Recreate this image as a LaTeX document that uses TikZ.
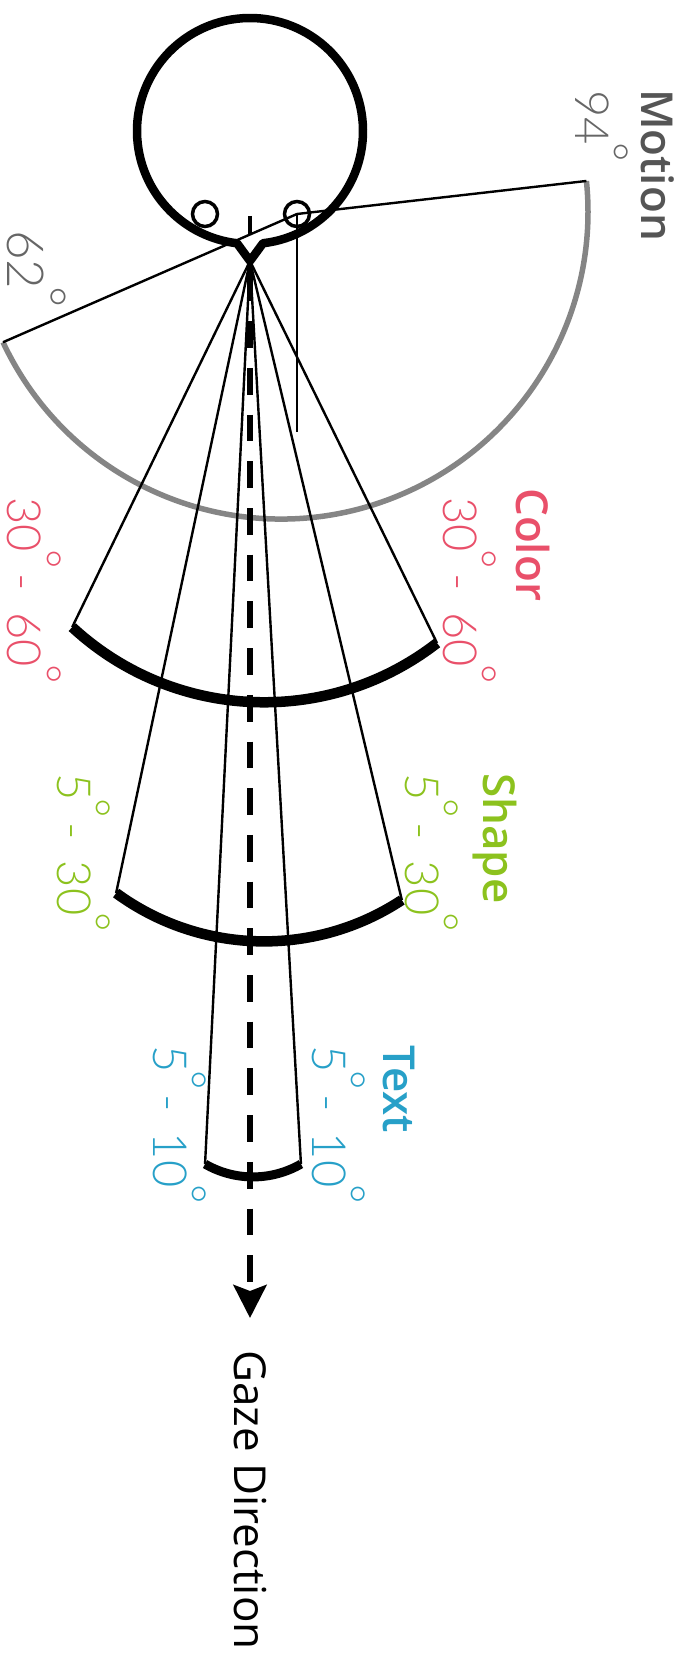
\documentclass[tikz,border=0pt]{standalone}
\usepackage{fontspec}
\setmainfont{Open Sans}
\IfFontExistsTF{Lato Light}{\newfontfamily\numfont{Lato Light}}{\newfontfamily\numfont{Open Sans}}
\IfFontExistsTF{Open Sans Semibold}{\newfontfamily\wordfont{Open Sans Semibold}}{\newcommand\wordfont{\bfseries}}
\usetikzlibrary{arrows.meta}
\definecolor{cred}{HTML}{E9506A}
\definecolor{cgreen}{HTML}{8CC21E}
\definecolor{cblue}{HTML}{27A0C8}
\definecolor{tgray}{HTML}{555555}
\definecolor{ngray}{HTML}{666666}
\definecolor{agray}{HTML}{858585}
\newcommand\dg{\kern-0.05em\raisebox{0.42em}{°}}
\newcommand\sep{\kern 0.1em-\kern 0.45em}
\begin{document}
\begin{tikzpicture}[x=1pt,y=1pt,
  headline/.style={line width=8.5pt, line join=round},
  eyestyle/.style={circle, draw, line width=3.5pt, minimum size=25pt, inner sep=0pt},
  thinline/.style={line width=2.4pt},
  greyarc/.style={line width=5.5pt, draw=agray},
  fanarc/.style={line width=10.5pt},
  gaze/.style={line width=6pt, dash pattern=on 26.7pt off 20pt, dash phase=33.2pt, -{Stealth[length=33pt,width=33pt,inset=6pt]}},
  word/.style={rotate=-90, anchor=base west, inner sep=0pt, text depth=0pt, font=\fontsize{44}{44}\selectfont\wordfont},
  num/.style={rotate=-90, anchor=base west, inner sep=0pt, text depth=0pt, font=\fontsize{47}{47}\selectfont\numfont},
]
\useasboundingbox (0,0) rectangle (684,-1661);
% key points
\coordinate (hc) at (250,-131);
\coordinate (apex) at (250,-261);
\coordinate (gc) at (281,-212);
\coordinate (cc) at (264,-420);
\coordinate (sc) at (264,-691);
\coordinate (tc) at (253,-1081);
\coordinate (gz) at (250,-1318);
\coordinate (eyeend) at (297,-432);
\coordinate (tickA) at (250,-216);
\coordinate (tickB) at (250,-234);
\path (gc) ++(-154.9:307pt) coordinate (mA);
\path (gc) ++(5.8:307pt) coordinate (mB);
\path (cc) ++(-132.8:282.3pt) coordinate (cL);
\path (cc) ++(-52.2:282.3pt) coordinate (cR);
\path (sc) ++(-126.2:250.4pt) coordinate (sL);
\path (sc) ++(-56.6:250.4pt) coordinate (sR);
\path (tc) ++(-120:95.9pt) coordinate (tL);
\path (tc) ++(-60:95.9pt) coordinate (tR);
% eyes
\node[eyestyle] (leye) at (205,-214) {};
\node[eyestyle] (reye) at (297,-214) {};
% motion field
\draw[greyarc] (mA) arc[start angle=-154.9, end angle=5.8, radius=307pt];
\draw[thinline] (mA) -- (reye.center) -- (mB);
\draw[line width=2pt] (reye.center) -- (eyeend);
% fans
\draw[thinline] (cL) -- (apex) -- (cR);
\draw[thinline] (sL) -- (apex) -- (sR);
\draw[thinline] (tL) -- (apex) -- (tR);
\draw[fanarc] (cL) arc[start angle=-132.8, end angle=-52.2, radius=282.3pt];
\draw[fanarc] (sL) arc[start angle=-126.2, end angle=-56.6, radius=250.4pt];
\draw[line width=9pt] (tL) arc[start angle=-120, end angle=-60, radius=95.9pt];
% gaze
\draw[gaze] (apex) -- (gz);
% head
\draw[headline] (hc) ++(-83.4:113pt) arc[start angle=-83.4, end angle=263.4, radius=113pt] -- (apex) -- cycle;
\draw[line width=4pt] (tickA) -- (tickB);
% labels
\node[word, text=tgray] (lmotion) at (641,-89) {Motion};
\node[num, text=ngray] (l94) at (575,-90) {94\dg};
\node[num, text=ngray, font=\fontsize{51}{51}\selectfont\numfont] (l62) at (8,-230) {62\dg};
\node[word, text=cred] (lcolor) at (516,-488) {Color};
\node[num, text=cred] (lcolR) at (443,-497) {30\dg\sep 60\dg};
\node[num, text=cred] (lcolL) at (8,-497) {30\dg\sep 60\dg};
\node[word, text=cgreen] (lshape) at (483,-773) {Shape};
\node[num, text=cgreen] (lshR) at (405,-773) {5\dg\sep 30\dg};
\node[num, text=cgreen] (lshL) at (57,-773) {5\dg\sep 30\dg};
\node[word, text=cblue] (ltext) at (383,-1045) {Text};
\node[num, text=cblue] (ltxR) at (312,-1045) {5\dg\sep 10\dg};
\node[num, text=cblue] (ltxL) at (153,-1045) {5\dg\sep 10\dg};
\node[rotate=-90, anchor=base west, inner sep=0pt, text depth=0pt, font=\fontsize{44}{44}\selectfont] (lgaze) at (234,-1350) {Gaze Direction};
\end{tikzpicture}
\end{document}
